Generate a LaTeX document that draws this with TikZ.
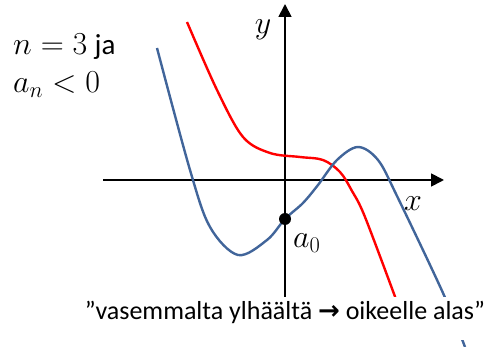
\documentclass[tikz,border=0pt]{standalone}
\usepackage{fix-cm}
\usepackage[no-math]{fontspec}
\setmainfont{Carlito}
\newfontfamily\arrowfont{DejaVu Sans}
\usetikzlibrary{arrows.meta}
\definecolor{curveblue}{HTML}{41659A}
\tikzset{
  axisline/.style={line width=1.8pt,-{Triangle[length=13pt,width=13pt]}},
  bluecurve/.style={curveblue,line width=2.4pt},
  redcurve/.style={red,line width=2.4pt},
  mathlabel/.style={font=\fontsize{32}{36}\selectfont,inner sep=0pt},
}
\begin{document}
\begin{tikzpicture}[x=1pt,y=-1pt]
\useasboundingbox (0,0) rectangle (493,347);
% axes
\coordinate (xl) at (103,180);
\coordinate (xr) at (444,180);
\coordinate (yb) at (285,297);
\coordinate (yt) at (285,4);
\draw[axisline] (xl) -- (xr);
\draw[axisline] (yb) -- (yt);
% red curve
\draw[redcurve] plot[smooth,tension=0.55] coordinates {(187,22) (217,90) (243,137) (270,153) (300,157) (323,160) (340,172) (352,191) (365,217) (397,302)};
% blue curve
\draw[bluecurve] plot[smooth,tension=0.55] coordinates {(157,48) (190,170) (210,227) (238,255) (267,240) (285,219) (303,203) (318,185) (337,160) (358,147) (378,160) (397,196) (443,293) (465,347)};
% dot
\node[circle,fill=black,inner sep=0pt,minimum size=12pt] (dot) at (285,219) {};
% labels
\node[mathlabel] (ylab) at (263,30) {$y$};
\node[mathlabel] (xlab) at (413,204) {$x$};
\node[mathlabel,anchor=base west] (a0) at (293,248) {$a_0$};
\node[mathlabel,anchor=base west] (l1) at (13,55) {$n=3$ \fontsize{29}{32}\selectfont ja};
\node[mathlabel,anchor=base west] (l2) at (13,93) {$a_n<0$};
\node[fill=white,inner xsep=1pt,inner ysep=0pt,text height=23pt,text depth=20pt,anchor=base,font=\fontsize{26}{28}\selectfont] (cap) at (285,320) {”vasemmalta ylhäältä {\arrowfont\bfseries →} oikeelle alas”};
\end{tikzpicture}
\end{document}
